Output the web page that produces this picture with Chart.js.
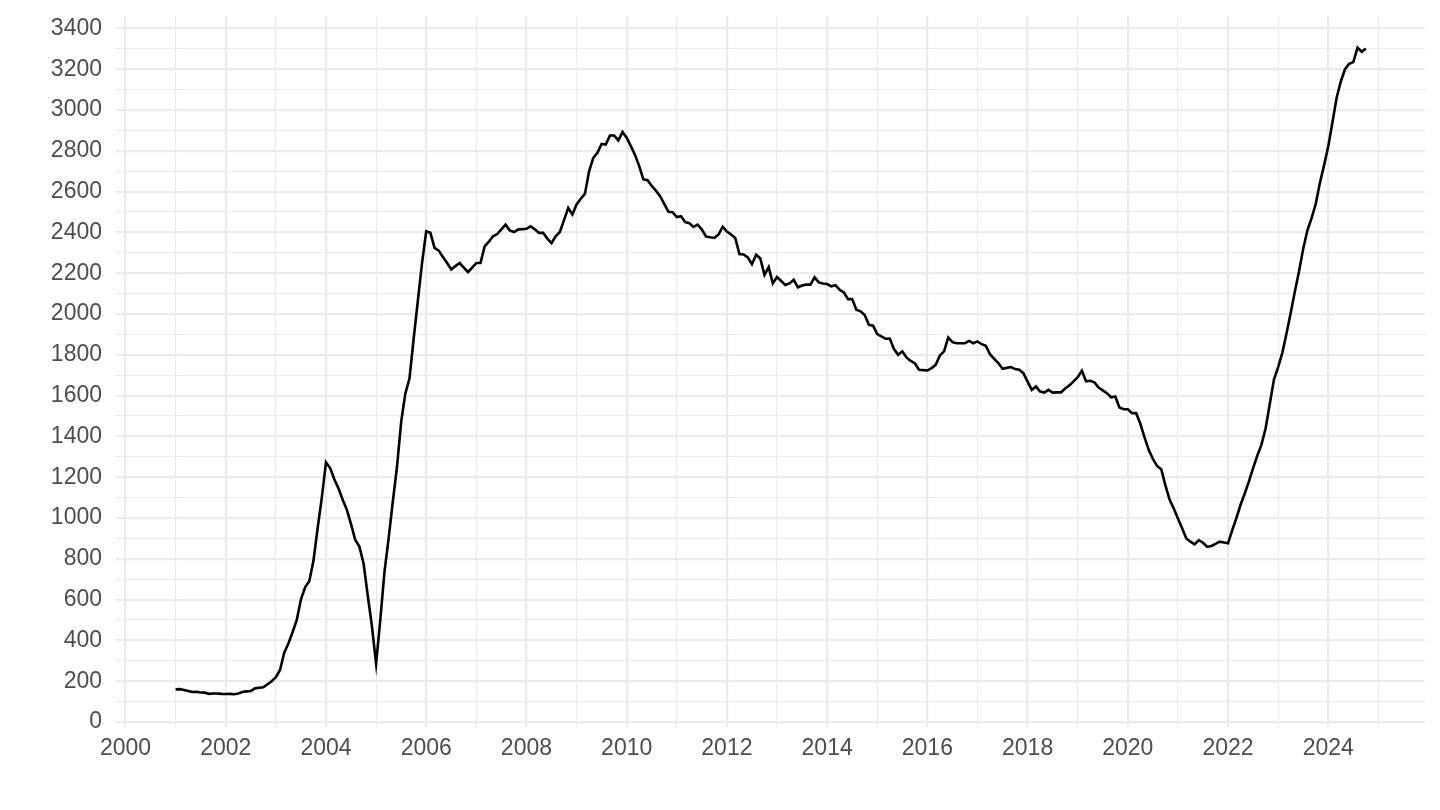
<!DOCTYPE html>
<html>
<head>
<meta charset="utf-8">
<script src="https://cdn.jsdelivr.net/npm/chart.js@4"></script>
<style>
  html, body { margin: 0; padding: 0; background: #ffffff; }
  #wrap { width: 1440px; height: 810px; }
</style>
</head>
<body>
<div id="wrap"><canvas id="c" width="1440" height="810"></canvas></div>
<script>
// ---- Data (monthly, starting January 2001) ----
const startYear = 2001;
const monthlyValues = [
  160,161,157,152,147,148,145,144,138,140,140,138,            // 2001
  137,138,136,140,147,150,152,165,168,170,185,200,            // 2002
  220,255,340,385,440,500,600,660,690,790,950,1100,           // 2003
  1273,1245,1190,1145,1090,1040,970,893,860,777,620,470,      // 2004
  286,500,735,900,1080,1250,1470,1610,1685,1880,2065,2250,    // 2005
  2406,2398,2324,2311,2280,2250,2218,2235,2250,2228,2206,2228,// 2006
  2250,2250,2332,2355,2381,2392,2415,2438,2410,2402,2414,2416,// 2007
  2418,2430,2415,2398,2398,2370,2348,2381,2402,2460,2520,2488,// 2008
  2537,2565,2589,2700,2765,2790,2834,2831,2875,2875,2851,2892,// 2009
  2864,2823,2780,2725,2660,2656,2628,2605,2578,2540,2501,2499,// 2010
  2475,2480,2451,2445,2427,2438,2414,2380,2376,2373,2390,2428,// 2011
  2404,2390,2373,2294,2292,2278,2244,2291,2272,2192,2230,2150,// 2012
  2181,2162,2142,2150,2168,2131,2140,2144,2144,2180,2155,2150,// 2013
  2147,2136,2141,2119,2106,2073,2073,2021,2013,1995,1947,1943,// 2014
  1902,1890,1879,1880,1828,1800,1817,1787,1770,1759,1727,1725,// 2015
  1723,1735,1751,1797,1817,1885,1862,1857,1857,1857,1868,1857,// 2016
  1866,1852,1844,1803,1780,1760,1732,1736,1740,1730,1727,1710,// 2017
  1669,1628,1645,1620,1615,1628,1615,1616,1616,1635,1650,1670,// 2018
  1690,1722,1670,1673,1665,1640,1626,1612,1592,1596,1542,1533,// 2019
  1533,1514,1514,1462,1395,1334,1290,1255,1239,1160,1090,1047,// 2020
  998,950,900,884,871,892,879,859,863,873,884,880,            // 2021
  876,940,1000,1065,1120,1180,1245,1305,1360,1440,1560,1680,  // 2022
  1740,1810,1905,2005,2110,2210,2320,2410,2470,2540,2643,2730,// 2023
  2823,2940,3060,3140,3200,3227,3235,3306,3286,3302           // 2024
];
const xTickYears = [2000,2001,2002,2003,2004,2005,2006,2007,2008,2009,2010,2011,2012,
                    2013,2014,2015,2016,2017,2018,2019,2020,2021,2022,2023,2024,2025];
const yTickValues = [0,100,200,300,400,500,600,700,800,900,1000,1100,1200,1300,1400,1500,1600,1700,
                     1800,1900,2000,2100,2200,2300,2400,2500,2600,2700,2800,2900,3000,3100,3200,3300,3400];

// ---- Build points ----
const points = monthlyValues.map((v, i) => ({ x: startYear + i / 12, y: v }));

const gridColor = '#ebebeb';
const textColor = '#4d4d4d';
const fontFamily = "'Liberation Sans', Arial, Helvetica, sans-serif";

new Chart(document.getElementById('c'), {
  type: 'line',
  data: {
    datasets: [{
      data: points,
      borderColor: '#000000',
      borderWidth: 2.6,
      pointRadius: 0,
      tension: 0,
      fill: false
    }]
  },
  options: {
    responsive: false,
    devicePixelRatio: 1,
    animation: false,
    layout: { padding: { top: 16, right: 15, left: 0, bottom: 0 } },
    plugins: { legend: { display: false }, tooltip: { enabled: false } },
    scales: {
      x: {
        type: 'linear',
        min: 1999.81,
        max: 2025.93,
        afterBuildTicks: (s) => { s.ticks = xTickYears.map(v => ({ value: v })); },
        afterFit: (s) => { s.height = 83; s.paddingLeft = 0; s.paddingRight = 0; },
        border: { display: false },
        grid: {
          color: gridColor,
          lineWidth: (ctx) => (ctx.tick && ctx.tick.value % 2 === 0) ? 2.2 : 1.1,
          drawTicks: false
        },
        ticks: {
          autoSkip: false,
          maxRotation: 0,
          padding: 8,
          color: textColor,
          font: { family: fontFamily, size: 23 },
          callback: (v) => (v % 2 === 0 ? String(v) : '')
        }
      },
      y: {
        type: 'linear',
        min: -24.5,
        max: 3461,
        afterBuildTicks: (s) => { s.ticks = yTickValues.map(v => ({ value: v })); },
        afterFit: (s) => { s.width = 116; s.paddingTop = 0; s.paddingBottom = 0; },
        border: { display: false },
        grid: {
          color: gridColor,
          lineWidth: (ctx) => (ctx.tick && ctx.tick.value % 200 === 0) ? 2.2 : 1.1,
          drawTicks: false
        },
        ticks: {
          autoSkip: false,
          padding: 14,
          color: textColor,
          font: { family: fontFamily, size: 23 },
          callback: (v) => (v % 200 === 0 ? String(v) : '')
        }
      }
    }
  }
});
</script>
</body>
</html>
